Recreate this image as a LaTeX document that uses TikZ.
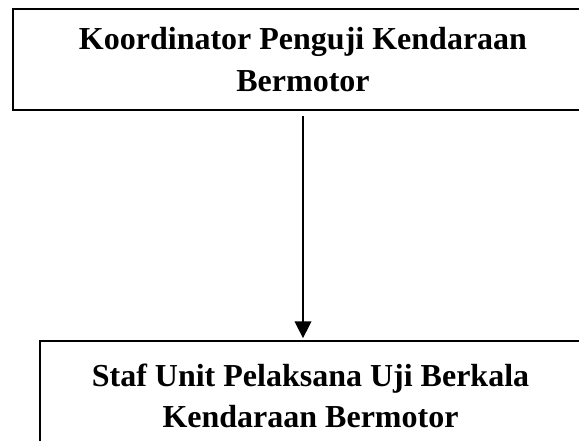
\documentclass[tikz,border=0pt]{standalone}
\usepackage{fontspec}
\setmainfont{Liberation Serif}
\usetikzlibrary{arrows.meta}
\begin{document}
\begin{tikzpicture}[x=0.75pt,y=-0.75pt,
  kotak/.style={draw,line width=1.3pt,inner sep=0pt,align=center,font=\bfseries\fontsize{24}{31}\selectfont}]
\useasboundingbox (0,0) rectangle (579,441);
\node[kotak,minimum width=435pt,minimum height=75.75pt] (koordinator)at(303,59.5){Koordinator Penguji Kendaraan\\Bermotor};
\node[kotak,minimum width=405.75pt,minimum height=82.5pt] (staf)at(310.5,396){Staf Unit Pelaksana Uji Berkala\\Kendaraan Bermotor};
\draw[-{Triangle[length=12.5pt,width=12.5pt]},line width=1pt,shorten <=3.75pt,shorten >=1.5pt] (koordinator.south) -- (koordinator.south |- staf.north);
\end{tikzpicture}
\end{document}
